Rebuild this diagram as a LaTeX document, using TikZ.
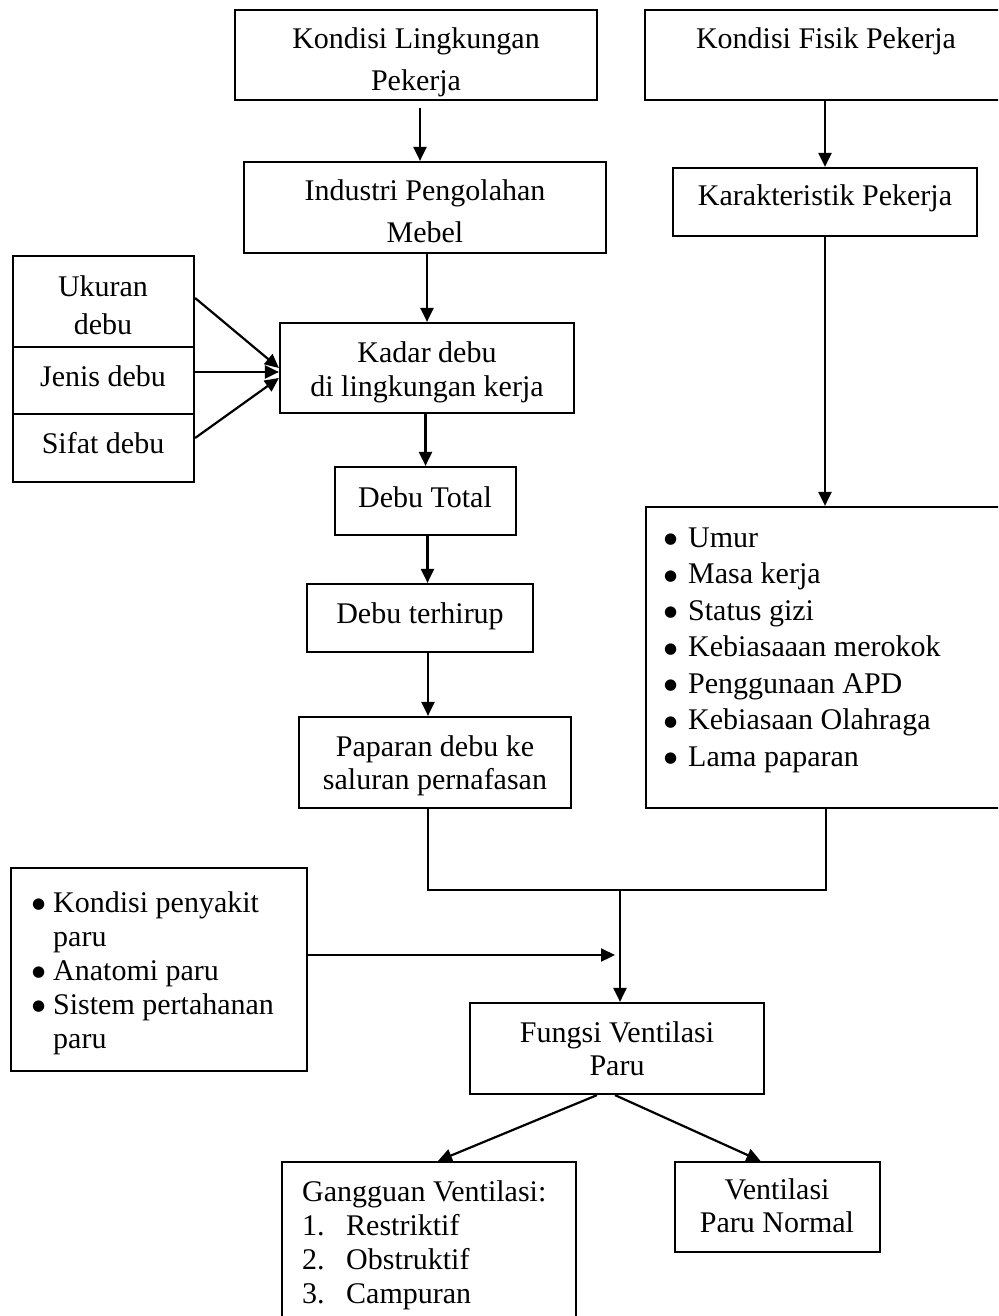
\documentclass[tikz,border=0pt]{standalone}
\usepackage{fontspec}
\setmainfont{Liberation Serif}
\newfontfamily\dejavu{DejaVu Sans}
\usetikzlibrary{arrows.meta,fit}
\newcommand{\bul}[1]{\makebox[#1][l]{\raisebox{3.5pt}{\dejavu\fontsize{15}{15}\selectfont ●}}}
\begin{document}
\begin{tikzpicture}[x=1pt,y=-1pt,
 box/.style={draw, line width=2.2pt, inner sep=0pt},
 lbl/.style={inner sep=0pt, align=center, font=\fontsize{30}{#1}\selectfont},
 lbl/.default=35,
 lst/.style={inner sep=0pt, align=left, anchor=west, font=\fontsize{30}{#1}\selectfont},
 ln/.style={line width=2.2pt},
 arr/.style={line width=2.2pt, -{Triangle[length=14pt,width=13pt]}}]
\useasboundingbox (0,0) rectangle (998,1316);
\fill[white] (0,0) rectangle (998,1316);
\clip (0,0) rectangle (998,1316);

% boxes
\node[box, fit={(235,10) (597,100)}] (b1) {};
\node[box, fit={(645,10) (1007,100)}] (b2) {};
\node[box, fit={(244,162) (606,253)}] (b3) {};
\node[box, fit={(673,168) (977,236)}] (b4) {};
\node[box, fit={(13,256) (194,347)}] (u) {};
\node[box, fit={(13,347) (194,414)}] (j) {};
\node[box, fit={(13,414) (194,482)}] (s) {};
\node[box, fit={(280,323) (574,413)}] (k) {};
\node[box, fit={(335,467) (516,535)}] (dt) {};
\node[box, fit={(307,584) (533,652)}] (dh) {};
\node[box, fit={(299,717) (571,808)}] (p) {};
\node[box, fit={(646,507) (1006,808)}] (r) {};
\node[box, fit={(11,868) (307,1071)}] (l) {};
\node[box, fit={(470,1003) (764,1094)}] (f) {};
\node[box, fit={(282,1162) (576,1345)}] (g) {};
\node[box, fit={(675,1162) (880,1252)}] (v) {};

% texts
\node[lbl=42] (t1) at (416,62) {Kondisi Lingkungan\\Pekerja};
\node[lbl] (t2) at (826,41) {Kondisi Fisik Pekerja};
\node[lbl=42] (t3) at (425,211) {Industri Pengolahan\\Mebel};
\node[lbl] (t4) at (825,198) {Karakteristik Pekerja};
\node[lbl=38] (tu) at (103,305) {Ukuran\\debu};
\node[lbl] (tj) at (103,376) {Jenis debu};
\node[lbl] (ts) at (103,443) {Sifat debu};
\node[lbl=34] (tk) at (427,372) {Kadar debu\\di lingkungan kerja};
\node[lbl] (tdt) at (425,497) {Debu Total};
\node[lbl] (tdh) at (420,616) {Debu terhirup};
\node[lbl=33] (tp) at (435,766) {Paparan debu ke\\saluran pernafasan};
\node[lst=36.5] (tr) at (664,650) {\bul{24pt}Umur\\\bul{24pt}Masa kerja\\\bul{24pt}Status gizi\\\bul{24pt}Kebiasaaan merokok\\\bul{24pt}Penggunaan APD\\\bul{24pt}Kebiasaan Olahraga\\\bul{24pt}Lama paparan};
\node[lst=34] (tl) at (32,973) {\bul{21pt}Kondisi penyakit\\\hspace*{21pt}paru\\\bul{21pt}Anatomi paru\\\bul{21pt}Sistem pertahanan\\\hspace*{21pt}paru};
\node[lbl=33] (tf) at (617,1049) {Fungsi Ventilasi\\Paru};
\node[lst=34] (tg) at (302,1245) {Gangguan Ventilasi:\\\makebox[44pt][l]{1.}Restriktif\\\makebox[44pt][l]{2.}Obstruktif\\\makebox[44pt][l]{3.}Campuran};
\node[lbl=33] (tv) at (777,1206) {Ventilasi\\Paru Normal};

% connectors
\draw[arr] ([xshift=4pt,yshift=-7pt]b1.south) -- ([xshift=4pt]b1.south |- b3.north);
\draw[arr] (b4.north |- b2.south) -- (b4.north);
\draw[arr] (b4.south) -- (b4.south |- r.north);
\draw[arr] (k.north |- b3.south) -- (k.north);
\draw[arr] ([yshift=3.5pt]u.east) -- (k.west);
\draw[arr] ([yshift=8.5pt]j.east) -- ([yshift=-4pt]k.west);
\draw[arr] ([yshift=10pt]s.east) -- ([yshift=-10pt]k.west);
\draw[arr] (dt.north |- k.south) -- (dt.north);
\draw[arr] ([xshift=2pt]dt.south) -- ([xshift=2pt]dt.south |- dh.north);
\draw[arr] ([xshift=8pt]dh.south) -- ([xshift=8pt]dh.south |- p.north);
\coordinate (m) at (620,890);
\draw[ln] ([xshift=-7pt]p.south) |- (m) -| (r.south);
\draw[arr] (m) -- (m |- f.north);
\coordinate (la) at ([yshift=14.5pt]l.east);
\coordinate (lb) at (la -| m);
\draw[arr] (la) -- ([xshift=-5pt]lb);
\draw[arr] ([xshift=-20pt]f.south) -- ([xshift=9pt]g.north);
\draw[arr] ([xshift=-2pt]f.south) -- ([xshift=-17pt]v.north);
\end{tikzpicture}
\end{document}
